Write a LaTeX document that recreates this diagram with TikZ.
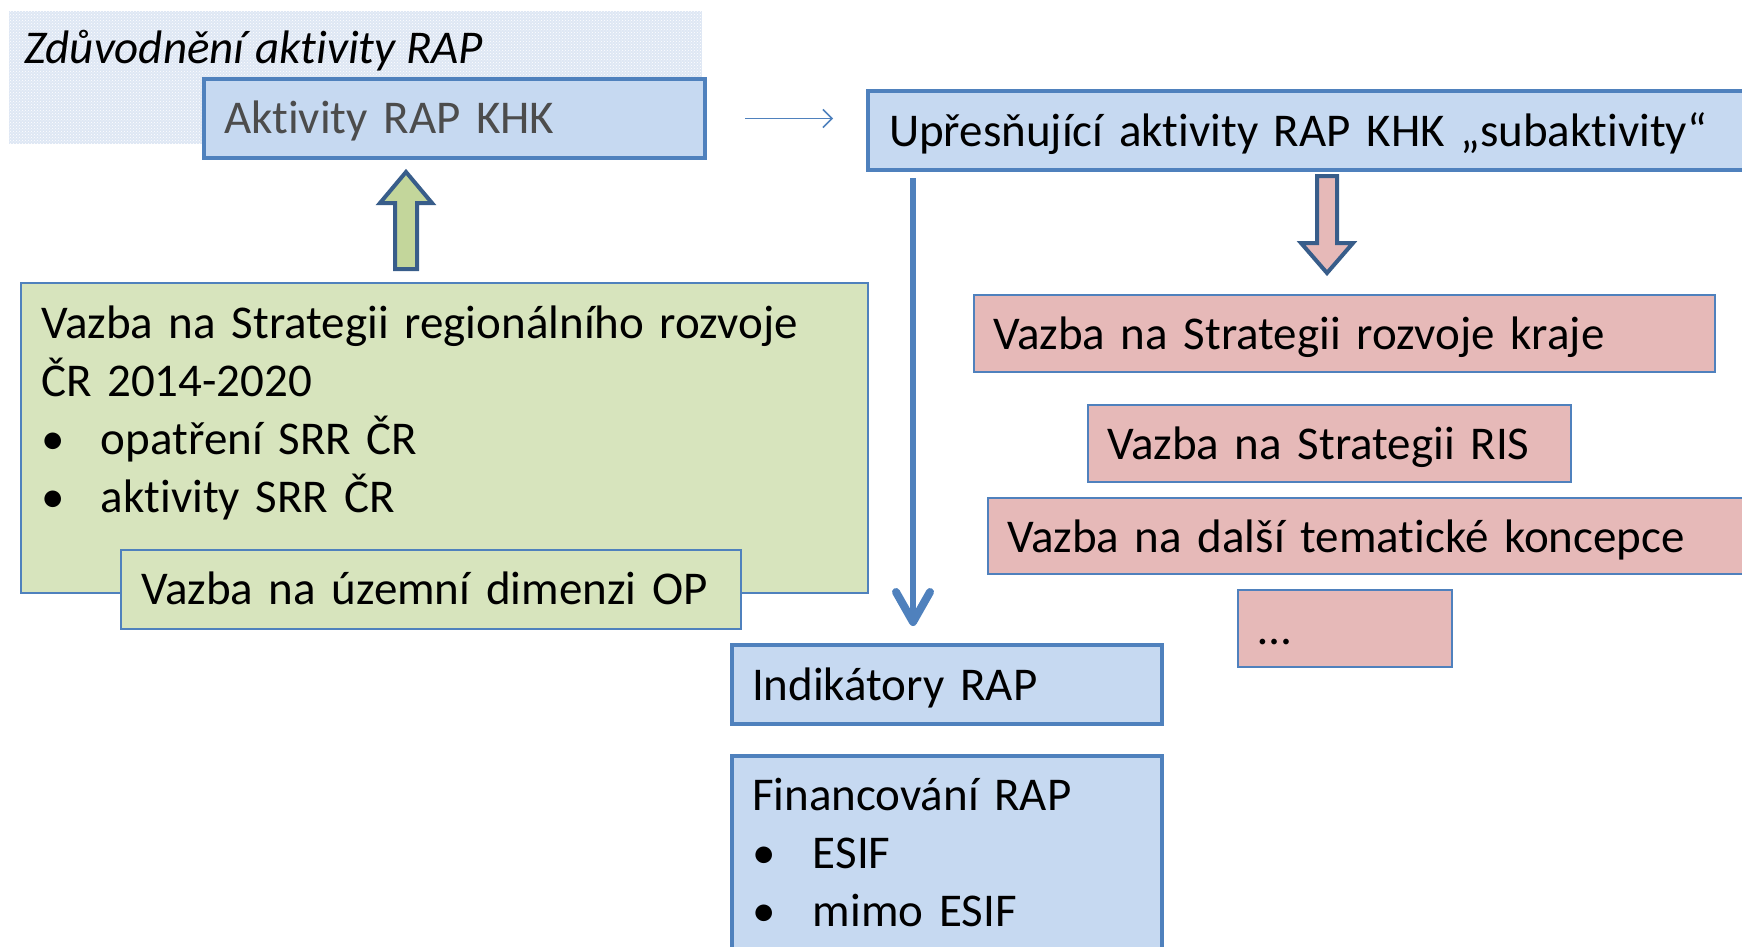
\documentclass[tikz,border=0pt]{standalone}
\usepackage{fontspec}
\setmainfont{Carlito}[Ligatures=NoCommon]
\usetikzlibrary{arrows.meta, patterns}
\definecolor{boxblue}{RGB}{198,217,241}
\definecolor{boxline}{RGB}{79,129,189}
\definecolor{boxgreen}{RGB}{215,228,189}
\definecolor{boxpink}{RGB}{230,185,184}
\definecolor{arrline}{RGB}{56,93,138}
\definecolor{arrgreen}{RGB}{195,214,155}
\definecolor{titlebg}{RGB}{222,231,244}
\newcommand{\bitem}[2][60pt]{\makebox[#1][l]{•}#2}
\tikzset{
  box/.style={draw=boxline, line width=2pt, anchor=north west, inner ysep=0pt,
    align=left, font=\fontsize{47}{58}\selectfont},
  bluebox/.style={box, fill=boxblue, line width=4pt},
  greenbox/.style={box, fill=boxgreen},
  pinkbox/.style={box, fill=boxpink},
  blockarrow/.style={draw=arrline, line width=4pt, line join=miter},
}
\begin{document}
\begin{tikzpicture}[x=1pt, y=-1pt]
\useasboundingbox (0,0) rectangle (1742,946);
\clip (0,0) rectangle (1742,946);
% Title
\fill[titlebg] (9,11) rectangle (702,144);
\fill[pattern=crosshatch dots, pattern color=white] (9,11) rectangle (702,144);
\node[anchor=base west, inner sep=0pt, font=\fontsize{47}{58}\selectfont\itshape] (title) at (24,63) {Zdůvodnění aktivity RAP};
% Top row
\node[bluebox, inner xsep=20pt, text width=461pt, text height=54pt, text depth=25pt, text=black!70] (akt) at (202,77) {Aktivity RAP KHK};
\node[bluebox, inner xsep=21pt, text width=852pt, text height=55pt, text depth=24pt] (upr) at (866,89) {Upřesňující aktivity RAP KHK „subaktivity“};
% Left side
\node[greenbox, inner xsep=20pt, text width=807pt, text height=55pt, text depth=255pt] (srr) at (20,282)
  {Vazba na Strategii regionálního rozvoje\\ČR 2014-2020\\\bitem{opatření SRR ČR}\\\bitem{aktivity SRR ČR}};
\node[greenbox, inner xsep=20pt, text width=580pt, text height=54pt, text depth=25pt] (uzem) at (120,549) {Vazba na územní dimenzi OP};
% Right side
\node[pinkbox, inner xsep=19pt, text width=703pt, text height=54pt, text depth=23pt] (kraj) at (973,294) {Vazba na Strategii rozvoje kraje};
\node[pinkbox, inner xsep=19pt, text width=445pt, text height=54pt, text depth=23pt] (ris) at (1087,404) {Vazba na Strategii RIS};
\node[pinkbox, inner xsep=19pt, text width=735pt, text height=54pt, text depth=22pt] (konc) at (987,497) {Vazba na další tematické koncepce};
\node[pinkbox, inner xsep=20pt, text width=174pt, text height=54pt, text depth=23pt] (dalsi) at (1237,589) {…};
% Bottom middle
\node[bluebox, inner xsep=20pt, text width=390pt, text height=55pt, text depth=24pt] (ind) at (730,643) {Indikátory RAP};
\node[bluebox, inner xsep=20pt, text width=390pt, text height=54pt, text depth=152pt] (fin) at (730,754)
  {Financování RAP\\\bitem[61pt]{ESIF}\\\bitem[61pt]{mimo ESIF}};
% Connectors
\draw[boxline, line width=1.5pt, -{Straight Barb[length=9pt, width=18pt]}]
  ([xshift=38pt]akt.east) -- ([xshift=-33pt]akt.east -| upr.west);
\draw[boxline, line width=6pt, -{Straight Barb[length=30pt, width=34pt, line width=8pt, round]}]
  ([xshift=47pt, yshift=-6pt]upr.south west) -- ([xshift=183pt, yshift=17pt]ind.north west);
% Block arrows
\coordinate (gbase) at ([xshift=386pt, yshift=13pt]srr.north west);
\draw[blockarrow, fill=arrgreen] (gbase) ++(-11,0) -- ++(0,-66) -- ++(-15,0) -- ++(26,-31)
  -- ++(26,31) -- ++(-15,0) -- ++(0,66) -- cycle;
\coordinate (ptop) at ([xshift=461pt, yshift=-4pt]upr.south west);
\draw[blockarrow, fill=boxpink] (ptop) ++(-10,0) -- ++(20,0) -- ++(0,67) -- ++(16,0)
  -- ++(-26,30) -- ++(-26,-30) -- ++(16,0) -- cycle;
\end{tikzpicture}
\end{document}
